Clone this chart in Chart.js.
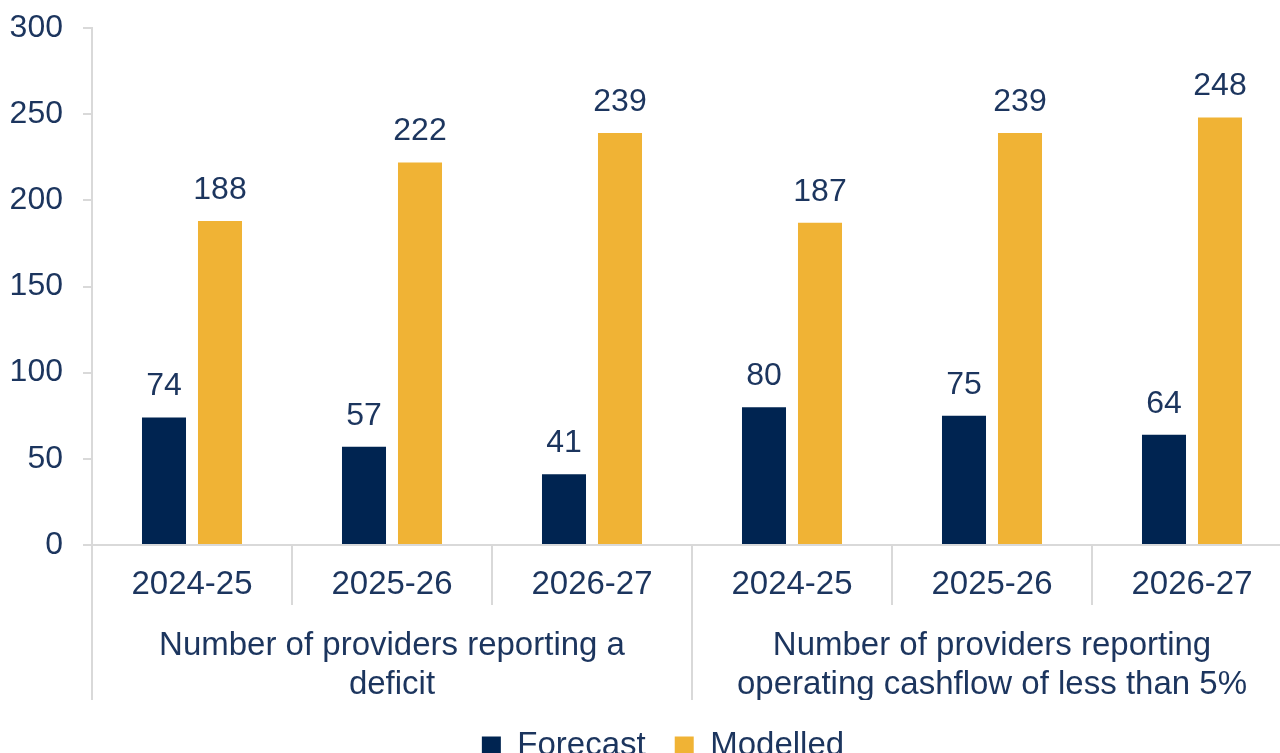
<!DOCTYPE html>
<html>
<head>
<meta charset="utf-8">
<script src="https://cdn.jsdelivr.net/npm/chart.js@4.4.1/dist/chart.umd.min.js"></script>
<style>
  html, body { margin: 0; padding: 0; background: #ffffff; overflow: hidden; width: 1280px; height: 753px; }
  #wrap { position: absolute; left: 0; top: 0; width: 1326px; height: 772px; }
</style>
</head>
<body>
<div id="wrap"><canvas id="c" width="1326" height="772"></canvas></div>
<script>
// ---- data ----
const yearLabels = ['2024-25', '2025-26', '2026-27', '2024-25', '2025-26', '2026-27'];
const groupLabels = [
  ['Number of providers reporting a', 'deficit'],
  ['Number of providers reporting', 'operating cashflow of less than 5%']
];
const forecastValues = [74, 57, 41, 80, 75, 64];
const modelledValues = [188, 222, 239, 187, 239, 248];
const yTicks = [0, 50, 100, 150, 200, 250, 300];

// ---- styles ----
const FONT = '"Liberation Sans", Arial, Helvetica, sans-serif';
const TEXT = '#1c355e';
const NAVY = '#002451';
const GOLD = '#f0b335';
const AXIS = '#d9d9d9';

const valueLabels = {
  id: 'valueLabels',
  afterDatasetsDraw(chart) {
    const ctx = chart.ctx;
    ctx.save();
    ctx.font = '32px ' + FONT;
    ctx.fillStyle = TEXT;
    ctx.textAlign = 'center';
    ctx.textBaseline = 'middle';
    chart.data.datasets.forEach((ds, i) => {
      const meta = chart.getDatasetMeta(i);
      meta.data.forEach((el, j) => {
        ctx.fillText(String(ds.data[j]), el.x, el.y - 31);
      });
    });
    ctx.restore();
  }
};

new Chart(document.getElementById('c'), {
  type: 'bar',
  data: {
    labels: yearLabels,
    datasets: [
      { label: 'Forecast', data: forecastValues, backgroundColor: NAVY, borderWidth: 0,
        categoryPercentage: 0.56, barPercentage: 0.786, xAxisID: 'x', yAxisID: 'y' },
      { label: 'Modelled', data: modelledValues, backgroundColor: GOLD, borderWidth: 0,
        categoryPercentage: 0.56, barPercentage: 0.786, xAxisID: 'x', yAxisID: 'y' }
    ]
  },
  options: {
    responsive: false,
    animation: false,
    devicePixelRatio: 1,
    layout: { padding: { left: 0, right: 0, top: 28, bottom: 0 } },
    plugins: {
      tooltip: { enabled: false },
      legend: {
        position: 'bottom',
        labels: {
          boxWidth: 19, boxHeight: 18, padding: 29,
          color: TEXT,
          font: { family: FONT, size: 33 }
        }
      }
    },
    scales: {
      y: {
        min: 0, max: 300,
        afterBuildTicks(scale) { scale.ticks = yTicks.map(v => ({ value: v })); },
        afterFit(scale) { scale.width = 92; scale.paddingTop = 0; scale.paddingBottom = 0; },
        grid: { drawOnChartArea: false, drawTicks: true, tickLength: 9, color: AXIS, lineWidth: 2 },
        border: { display: true, color: AXIS, width: 2 },
        ticks: { color: TEXT, padding: 20, font: { family: FONT, size: 32 } }
      },
      yR: {
        type: 'linear',
        position: 'right',
        display: true,
        afterFit(scale) { scale.width = 34; scale.paddingTop = 0; scale.paddingBottom = 0; },
        grid: { display: false, drawTicks: false },
        border: { display: false },
        ticks: { display: false }
      },
      x: {
        type: 'category',
        position: 'bottom',
        weight: 0,
        offset: true,
        afterFit(scale) { scale.height = 60; },
        grid: { offset: true, drawOnChartArea: false, drawTicks: true, tickLength: 60, color: AXIS, lineWidth: 2 },
        border: { display: true, color: AXIS, width: 2 },
        ticks: { color: TEXT, padding: -40, autoSkip: false, maxRotation: 0, minRotation: 0,
                 font: { family: FONT, size: 33, lineHeight: 1.2 } }
      },
      x2: {
        type: 'category',
        position: 'bottom',
        weight: 1,
        labels: groupLabels,
        offset: true,
        afterFit(scale) { scale.height = 95; },
        grid: { offset: true, drawOnChartArea: false, drawTicks: true, tickLength: 95, color: AXIS, lineWidth: 2 },
        border: { display: false },
        ticks: { color: TEXT, padding: -74, autoSkip: false, maxRotation: 0, minRotation: 0,
                 font: { family: FONT, size: 33, lineHeight: 1.2 } }
      }
    }
  },
  plugins: [valueLabels]
});
</script>
</body>
</html>
